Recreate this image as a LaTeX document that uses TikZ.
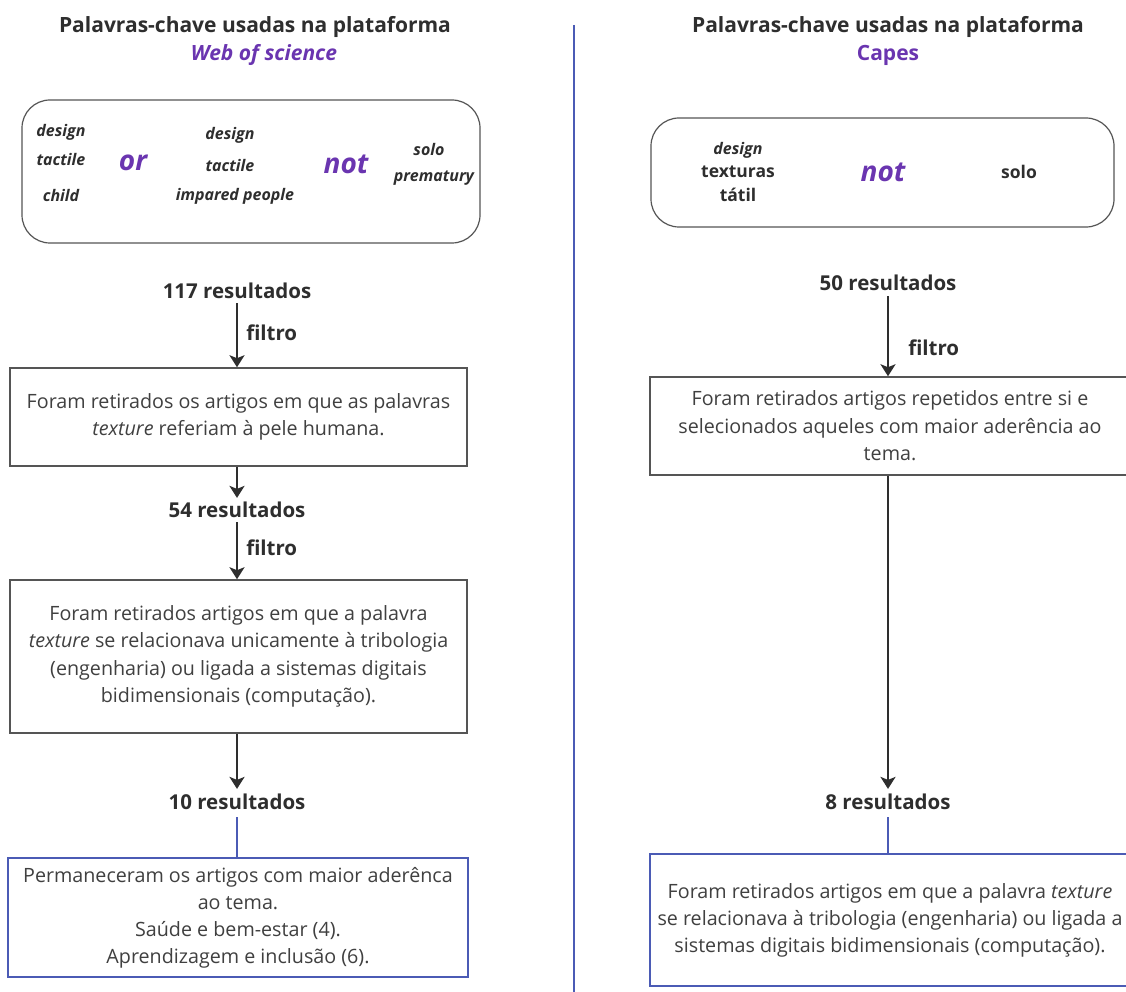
\documentclass[tikz,border=0pt]{standalone}
\usepackage{fontspec}
\setmainfont{Open Sans}
\usetikzlibrary{arrows.meta}
\definecolor{txt}{HTML}{2E2E2E}
\definecolor{body}{HTML}{404040}
\definecolor{purp}{HTML}{6A35B0}
\definecolor{bluel}{HTML}{4B5BB5}
\definecolor{boxgray}{HTML}{555555}
\tikzset{
  title/.style={font=\fontsize{21}{25}\selectfont\bfseries, text=txt, inner sep=0pt},
  platform/.style={font=\fontsize{21}{25}\selectfont\bfseries\itshape, text=purp, inner sep=0pt},
  platformup/.style={font=\fontsize{21}{25}\selectfont\bfseries, text=purp, inner sep=0pt},
  kw/.style={font=\fontsize{16}{18}\selectfont\bfseries\itshape, text=txt, inner sep=0pt},
  kwup/.style={font=\fontsize{17.5}{20}\selectfont\bfseries, text=txt, inner sep=0pt},
  oper/.style={font=\fontsize{28}{30}\selectfont\bfseries\itshape, text=purp, inner sep=0pt},
  res/.style={font=\fontsize{20.5}{24}\selectfont\bfseries, text=txt, inner sep=0pt},
  filt/.style={font=\fontsize{20.5}{24}\selectfont\bfseries, text=txt, inner sep=0pt},
  kwbox/.style={draw=boxgray, line width=1.2pt, rounded corners=28pt},
  stepbox/.style={draw=boxgray, line width=1.5pt, align=center, inner sep=0pt,
     font=\fontsize{19.7}{27.5}\selectfont, text=body},
  bluebox/.style={draw=bluel, line width=1.5pt, align=center, inner sep=0pt,
     font=\fontsize{19.7}{27}\selectfont, text=body},
  arr/.style={draw=txt, line width=2.5pt, -{Stealth[length=12pt,width=15pt,inset=3pt]}},
  blueline/.style={draw=bluel, line width=2.2pt},
}
\begin{document}
\begin{tikzpicture}[x=1pt,y=-1pt]
\clip (0,0) rectangle (1126,992);
\fill[white] (0,0) rectangle (1126,992);

% divider
\coordinate (dtop) at (574,25);
\coordinate (dbot) at (574,992);
\draw[blueline] (dtop) -- (dbot);

% ---------------- LEFT ----------------
\node[title] (lt) at (255,27) {Palavras-chave usadas na plataforma};
\node[platform] (lp) at (264,55) {Web of science};

\node[kwbox, minimum width=458pt, minimum height=143pt] (lkw) at (251,171.5) {};
\node[kw] (l1) at (61,132) {design};
\node[kw] (l2) at (61,160) {tactile};
\node[kw] (l3) at (61,196) {child};
\node[oper] (lor) at (133,163) {or};
\node[kw] (l4) at (230,135) {design};
\node[kw] (l5) at (230,166) {tactile};
\node[kw] (l6) at (235,196) {impared people};
\node[oper] (lnot) at (346,164) {not};
\node[kw] (l7) at (429,150) {solo};
\node[kw] (l8) at (434,178) {prematury};

\node[res] (r117) at (237,291) {117 resultados};
\coordinate (lx) at (237,0);
\node[stepbox, minimum width=457pt, minimum height=98pt] (b1) at (238.5,417)
  {Foram retirados os artigos em que as palavras\\\textit{texture} referiam à pele humana.};
\node[res] (r54) at (237,510) {54 resultados};
\node[stepbox, minimum width=457pt, minimum height=153pt] (b2) at (238.5,656.5)
  {Foram retirados artigos em que a palavra\\\textit{texture} se relacionava unicamente à tribologia\\(engenharia) ou ligada a sistemas digitais\\bidimensionais (computação).};
\node[res] (r10) at (237,802) {10 resultados};
\node[bluebox, minimum width=460pt, minimum height=119pt] (b3) at (238,917.5)
  {Permaneceram os artigos com maior aderênca\\ao tema.\\Saúde e bem-estar (4).\\Aprendizagem e inclusão (6).};

\draw[arr] ([yshift=-4pt]r117.south -| lx) -- (b1.north -| lx) node[pos=0.47, right=8pt, filt] {filtro};
\draw[arr] (b1.south -| lx) -- ([yshift=4pt]r54.north -| lx);
\draw[arr] ([yshift=-4pt]r54.south -| lx) -- (b2.north -| lx) node[pos=0.45, right=8pt, filt] {filtro};
\draw[arr] (b2.south -| lx) -- ([yshift=5pt]r10.north -| lx);
\draw[blueline] ([yshift=-7pt]r10.south -| lx) -- (b3.north -| lx);

% ---------------- RIGHT ----------------
\node[title] (rt) at (888,27) {Palavras-chave usadas na plataforma};
\node[platformup] (rp) at (888,55) {Capes};

\node[kwbox, minimum width=463pt, minimum height=109pt] (rkw) at (882.5,172.5) {};
\node[kw] (k1) at (738,150) {design};
\node[kwup] (k2) at (738,172) {texturas};
\node[kwup] (k3) at (738,195) {tátil};
\node[oper] (rnot) at (883,172) {not};
\node[kwup] (k4) at (1019,172) {solo};

\node[res] (r50) at (888,283) {50 resultados};
\coordinate (rx) at (888,0);
\node[stepbox, minimum width=480pt, minimum height=98pt] (c1) at (890,426)
  {Foram retirados artigos repetidos entre si e\\selecionados aqueles com maior aderência ao\\tema.};
\node[res] (r8) at (888,802) {8 resultados};
\node[bluebox, minimum width=480pt, minimum height=132pt] (c2) at (890,920)
  {Foram retirados artigos em que a palavra \textit{texture}\\se relacionava à tribologia (engenharia) ou ligada a\\sistemas digitais bidimensionais (computação).};

\draw[arr] ([yshift=-5pt]r50.south -| rx) -- (c1.north -| rx) node[pos=0.64, right=19pt, filt] {filtro};
\draw[arr] (c1.south -| rx) -- ([yshift=5pt]r8.north -| rx);
\draw[blueline] ([yshift=-7pt]r8.south -| rx) -- (c2.north -| rx);
\end{tikzpicture}
\end{document}
